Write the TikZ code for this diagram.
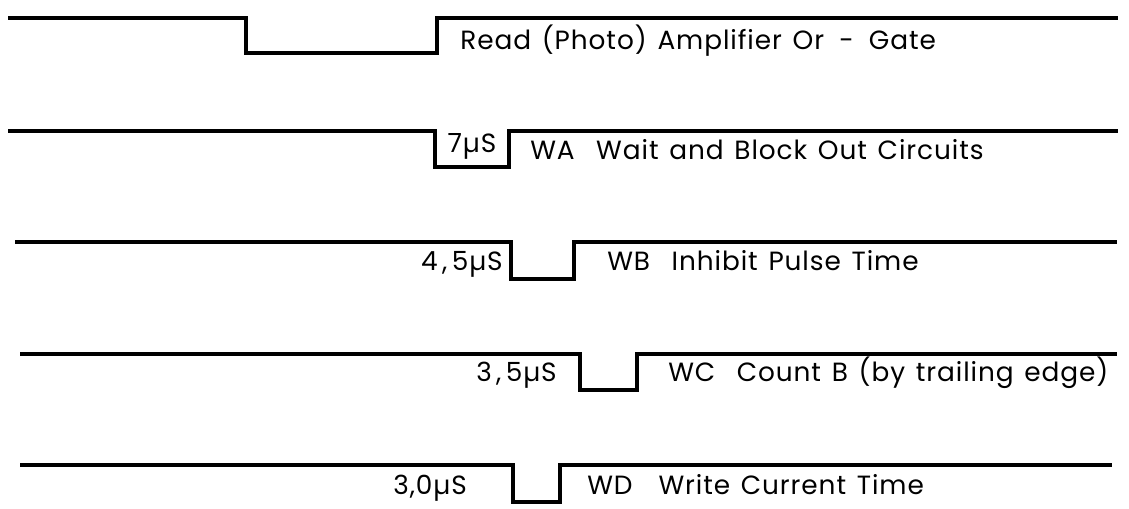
\documentclass[tikz,border=0pt]{standalone}
\usepackage{fontspec}
\setmainfont[LetterSpace=3.5,WordSpace=1.35]{Poppins}
\tikzset{
  wave/.style={line width=2.1pt, line join=miter},
  sig/.style={anchor=base west, inner sep=0pt, font=\fontsize{15}{17}\selectfont},
  dur/.style={anchor=base east, inner sep=0pt, font=\fontsize{15}{17}\selectfont}
}
\begin{document}
\begin{tikzpicture}[x=0.02cm,y=-0.02cm]
  \useasboundingbox (0,0) rectangle (1129,509);
  % read amplifier
  \draw[wave] (8,18) -- (246,18) coordinate (RAf) -- (246,53) -- (437,53) -- (437,18) coordinate (RAr) -- (1118,18);
  \node[sig] (RA) at (460,50) {Read (Photo) Amplifier Or\ \,-\ \,Gate};
  % WA
  \draw[wave] (8,131) -- (435,131) coordinate (WAf) -- (435,167) -- (509,167) -- (509,131) coordinate (WAr) -- (1118,131);
  \node[sig, anchor=base] (WAt) at (472,153) {7µS};
  \node[sig] (WA) at (530,160) {WA\ \ Wait and Block Out Circuits};
  % WB
  \draw[wave] (15,242) -- (511,242) coordinate (WBf) -- (511,279) -- (574,279) -- (574,242) coordinate (WBr) -- (1117,242);
  \node[dur] (WBt) at (503,271) {4\kern2.5pt,\kern2.5pt5µS};
  \node[sig] (WB) at (607,271) {WB\ \ Inhibit Pulse Time};
  % WC
  \draw[wave] (20,354) -- (580,354) coordinate (WCf) -- (580,390) -- (637,390) -- (637,354) coordinate (WCr) -- (1117,354);
  \node[dur] (WCt) at (557,382) {3\kern2.5pt,\kern2.5pt5µS};
  \node[sig] (WC) at (668,382) {WC\ \ Count B (by trailing edge)};
  % WD
  \draw[wave] (20,465) -- (513,465) coordinate (WDf) -- (513,502) -- (560,502) -- (560,465) coordinate (WDr) -- (1112,465);
  \node[sig] (WDt) at (393,495) {3,0µS};
  \node[sig] (WD) at (587,495) {WD\ \ \,Write Current Time};
\end{tikzpicture}
\end{document}
